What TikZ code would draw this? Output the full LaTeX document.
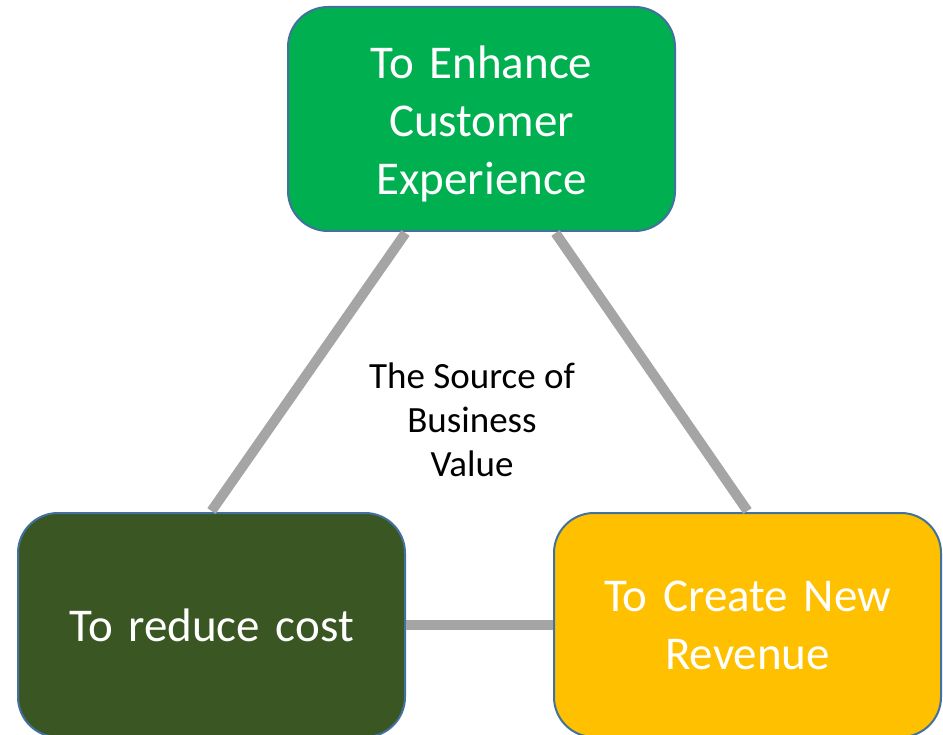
\documentclass[tikz,border=0pt]{standalone}
\usepackage{fontspec}
\setmainfont{Carlito}
\usetikzlibrary{calc}
\definecolor{topgreen}{HTML}{00B050}
\definecolor{darkgreen}{HTML}{3A5723}
\definecolor{gold}{HTML}{FFC000}
\definecolor{edgeblue}{HTML}{41719C}
\definecolor{linkgray}{HTML}{A5A5A5}
\tikzset{
  goalbox/.style={draw=edgeblue, line width=2pt, rounded corners=40pt,
    minimum width=387pt, minimum height=224pt, text width=360pt, align=center,
    text=white, font=\fontsize{47pt}{58pt}\selectfont, inner sep=0pt},
  link/.style={draw=linkgray, line width=10pt},
  centertext/.style={align=center, text=black, font=\fontsize{37pt}{44pt}\selectfont}
}
\begin{document}
\begin{tikzpicture}[x=1pt,y=-1pt]
\useasboundingbox (0,0) rectangle (943,735);
\clip (0,0) rectangle (943,735);
\node[goalbox, fill=topgreen] (top) at (481.5,119) {\rule{0pt}{10pt}\\[-26pt]To Enhance\\Customer\\Experience};
\node[goalbox, fill=darkgreen] (bl) at (211.5,625) {To reduce cost};
\node[goalbox, fill=gold] (br) at (747.5,625) {To Create New\\Revenue};
\node[centertext] (src) at (472,420) {The Source of\\Business\\Value};
\draw[link] ($(top.south)+(-76,1)$) -- ($(bl.north)+(0,-1)$);
\draw[link] ($(top.south)+(74,1)$) -- ($(br.north)+(0,-1)$);
\draw[link] (bl.east) -- (br.west);
\end{tikzpicture}
\end{document}
